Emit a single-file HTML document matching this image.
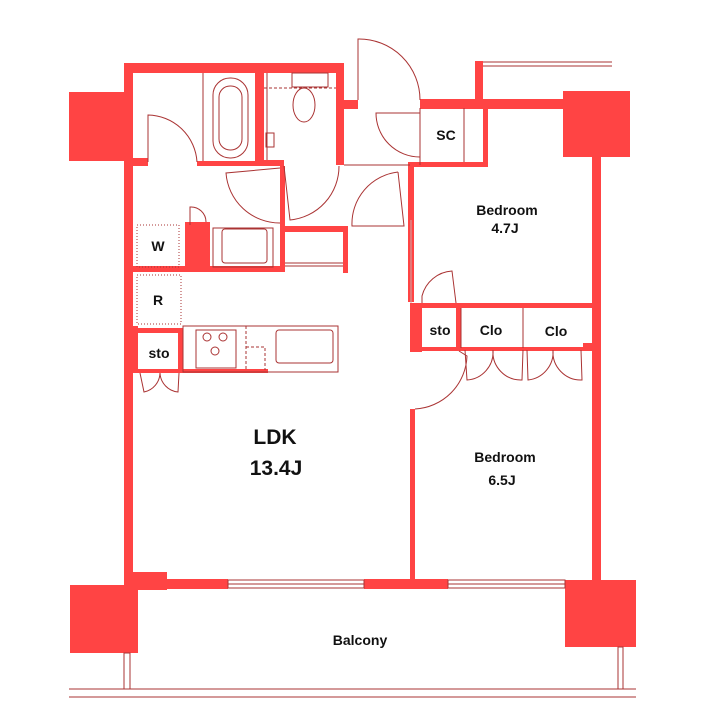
<!DOCTYPE html>
<html><head><meta charset="utf-8"><style>
html,body{margin:0;padding:0;background:#fff;}
svg{display:block;}
text{font-family:"Liberation Sans",sans-serif;font-weight:bold;fill:#111;text-anchor:middle;}
</style></head><body>
<svg width="720" height="720" viewBox="0 0 720 720" xmlns="http://www.w3.org/2000/svg">
<g fill="#f44" stroke="none">
<!-- pillars -->
<rect x="69" y="92" width="62" height="69"/>
<rect x="563" y="91" width="67" height="66"/>
<rect x="70" y="585" width="68" height="68"/>
<rect x="565" y="580" width="71" height="67"/>
<!-- left wall -->
<rect x="124" y="63" width="9" height="527"/>
<!-- top wall -->
<rect x="124" y="63" width="220" height="10"/>
<rect x="336" y="63" width="8" height="102"/>
<rect x="336" y="100" width="22" height="9"/>
<rect x="255" y="63" width="9" height="100"/>
<rect x="124" y="158" width="24" height="8"/>
<rect x="197" y="161" width="86" height="5"/>
<rect x="264" y="160" width="20" height="6"/>
<!-- entrance/top wall right -->
<rect x="420" y="99" width="145" height="10"/>
<rect x="475" y="61" width="8" height="40"/>
<rect x="483" y="108" width="5" height="59"/>
<rect x="408" y="162" width="80" height="5"/>
<!-- right wall -->
<rect x="592" y="155" width="9" height="428"/>
<!-- hall-bedroom wall -->
<rect x="408" y="162" width="6" height="140"/>
<rect x="409" y="270" width="4" height="10"/>
<!-- washroom -->
<rect x="280" y="166" width="5" height="106"/>
<rect x="133" y="266" width="152" height="6"/>
<rect x="185" y="222" width="25" height="48"/>
<rect x="285" y="226" width="62" height="6"/>
<rect x="343" y="226" width="5" height="47"/>
<!-- closets -->
<rect x="410" y="303" width="190" height="5"/>
<rect x="410" y="303" width="12" height="49"/>
<rect x="456" y="303" width="5" height="45"/>
<rect x="410" y="347" width="182" height="4"/>
<rect x="583" y="343" width="17" height="8"/>
<!-- LDK/bedroom wall -->
<rect x="410" y="409" width="5" height="172"/>
<!-- kitchen sto -->
<rect x="133" y="326" width="5" height="47"/>
<rect x="133" y="328" width="50" height="5"/>
<rect x="178" y="328" width="5" height="45"/>
<rect x="133" y="369" width="135" height="4"/>
<!-- bottom wall -->
<rect x="124" y="572" width="43" height="18"/>
<rect x="124" y="579" width="104" height="10"/>
<rect x="364" y="579" width="84" height="10"/>
<rect x="124" y="585" width="14" height="5"/>
</g>
<g fill="none" stroke="#a33" stroke-width="1">
<!-- windows -->
<rect x="228" y="580" width="136" height="8"/>
<line x1="228" y1="584" x2="364" y2="584"/>
<rect x="448" y="580" width="117" height="8"/>
<line x1="448" y1="584" x2="565" y2="584"/>
<!-- balcony rails -->
<line x1="69" y1="689" x2="636" y2="689"/>
<line x1="69" y1="697" x2="636" y2="697"/>
<rect x="124" y="653" width="6" height="36"/>
<rect x="618" y="647" width="5" height="42"/>
<!-- top rail -->
<line x1="483" y1="62" x2="612" y2="62"/>
<line x1="483" y1="66" x2="612" y2="66"/>
<!-- bath -->
<line x1="203" y1="73" x2="203" y2="161"/>
<rect x="213" y="78" width="35" height="80" rx="17"/>
<rect x="219" y="86" width="23" height="64" rx="11"/>
<path d="M148 162 L148 115 A50 50 0 0 1 197 162"/>
<!-- toilet -->
<line x1="267" y1="73" x2="267" y2="160"/>
<path d="M292 73 h36 v14 h-36 z"/>
<ellipse cx="304" cy="105" rx="11" ry="17"/>
<line x1="264" y1="88" x2="336" y2="88" stroke-dasharray="3,2"/>
<rect x="266" y="133" width="8" height="14"/>
<!-- entrance door -->
<path d="M358 100 L358 39 A61 61 0 0 1 420 100"/>
<path d="M420 113 L376 113 A44 44 0 0 0 420 157"/>
<line x1="344" y1="165" x2="410" y2="165"/>
<line x1="420" y1="108" x2="420" y2="165"/>
<line x1="464" y1="108" x2="464" y2="162"/>
<!-- hall doors -->
<path d="M280 168 L226 173 A54 54 0 0 0 280 223"/>
<path d="M284 166 L290 220 A54 54 0 0 0 339 166"/>
<path d="M398 172 L404 226 L352 226 A52 52 0 0 1 398 172"/>
<!-- washroom -->
<path d="M190 225 L190 207 A15 15 0 0 1 206 222"/>
<rect x="213" y="228" width="60" height="39"/>
<rect x="222" y="229" width="45" height="34" rx="3"/>
<line x1="285" y1="263" x2="343" y2="263"/>
<line x1="285" y1="266" x2="343" y2="266"/>
<!-- kitchen -->
<rect x="183" y="326" width="155" height="46"/>
<rect x="196" y="330" width="40" height="38"/>
<circle cx="207" cy="337" r="4"/><circle cx="223" cy="337" r="4"/><circle cx="215" cy="351" r="4"/>
<rect x="276" y="330" width="57" height="33" rx="3"/>
<path d="M246 326 V370 M246 347 H265 V370" stroke-dasharray="3,2"/>
<!-- sto doors -->
<path d="M140 373 L144 392 A20 20 0 0 0 160 373 A20 20 0 0 0 178 392 L179 373"/>
<!-- W R dotted -->
<rect x="137" y="225" width="42" height="42" stroke-dasharray="1,2"/>
<rect x="137" y="275" width="44" height="49" stroke-dasharray="1,2"/>
<!-- bedroom doors -->
<path d="M422 303 L422 296 A33 33 0 0 1 452 271 L456 303"/>
<path d="M461 308 V348 M523 308 V348"/>
<path d="M465 350 L467 380 A28 28 0 0 0 493 350 A28 28 0 0 0 522 380 L523 350"/>
<path d="M527 350 L528 380 A28 28 0 0 0 553 350 A28 28 0 0 0 582 380 L581 350"/>
<path d="M415 409 A55 55 0 0 0 467 356 L459 351"/>
<line x1="411" y1="220" x2="411" y2="303" stroke="#caa"/>
</g>
<text x="158" y="251" font-size="14">W</text>
<text x="158" y="305" font-size="14">R</text>
<text x="159" y="358" font-size="14">sto</text>
<text x="446" y="140" font-size="14">SC</text>
<text x="507" y="215" font-size="14">Bedroom</text>
<text x="505" y="233" font-size="14">4.7J</text>
<text x="440" y="335" font-size="14">sto</text>
<text x="491" y="335" font-size="14">Clo</text>
<text x="556" y="336" font-size="14">Clo</text>
<text x="275" y="444" font-size="21">LDK</text>
<text x="276" y="475" font-size="21">13.4J</text>
<text x="505" y="462" font-size="14">Bedroom</text>
<text x="502" y="485" font-size="14">6.5J</text>
<text x="360" y="645" font-size="14">Balcony</text>
</svg>
</body></html>
